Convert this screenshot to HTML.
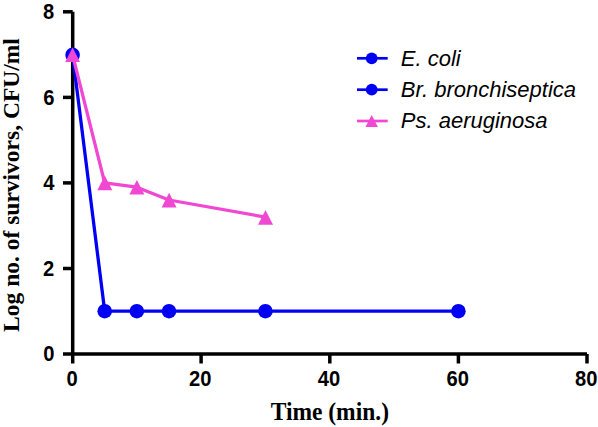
<!DOCTYPE html>
<html>
<head>
<meta charset="utf-8">
<style>
html,body{margin:0;padding:0;background:#fff;width:598px;height:427px;overflow:hidden;}
svg{display:block;}
.tick{font-family:"Liberation Sans",sans-serif;font-weight:bold;font-size:21px;fill:#000;}
.title{font-family:"Liberation Serif",serif;font-weight:bold;font-size:23.5px;fill:#000;}
.leg{font-family:"Liberation Sans",sans-serif;font-style:italic;font-size:22px;fill:#000;}
</style>
</head>
<body>
<svg width="598" height="427" viewBox="0 0 598 427">
<rect x="0" y="0" width="598" height="427" fill="#fff"/>
<!-- axes -->
<g stroke="#000" stroke-width="3.5" fill="none" stroke-linecap="butt">
  <line x1="72.7" y1="11.8" x2="72.7" y2="363.5"/>
  <line x1="63" y1="354" x2="587" y2="354"/>
  <line x1="63" y1="11.8" x2="72.7" y2="11.8"/>
  <line x1="63" y1="97.4" x2="72.7" y2="97.4"/>
  <line x1="63" y1="182.9" x2="72.7" y2="182.9"/>
  <line x1="63" y1="268.5" x2="72.7" y2="268.5"/>
  <line x1="201.1" y1="354" x2="201.1" y2="363.5"/>
  <line x1="329.8" y1="354" x2="329.8" y2="363.5"/>
  <line x1="458.4" y1="354" x2="458.4" y2="363.5"/>
  <line x1="587" y1="354" x2="587" y2="363.5"/>
</g>
<!-- y tick labels -->
<g class="tick" text-anchor="end">
  <text transform="translate(54.3,19.2) scale(0.96,1.05)">8</text>
  <text transform="translate(54.4,104.6) scale(0.96,1.05)">6</text>
  <text transform="translate(54.5,190.2) scale(0.96,1.05)">4</text>
  <text transform="translate(54.3,275.9) scale(0.96,1.05)">2</text>
  <text transform="translate(54.4,361.4) scale(0.96,1.05)">0</text>
</g>
<!-- x tick labels -->
<g class="tick" text-anchor="middle">
  <text transform="translate(72,385.5) scale(0.96,1.05)">0</text>
  <text transform="translate(200.3,385.5) scale(0.96,1.05)">20</text>
  <text transform="translate(329,385.5) scale(0.96,1.05)">40</text>
  <text transform="translate(457.7,385.5) scale(0.96,1.05)">60</text>
  <text transform="translate(586.3,385.5) scale(0.96,1.05)">80</text>
</g>
<!-- titles -->
<text class="title" text-anchor="middle" transform="translate(19.2,185) rotate(-90)">Log no. of survivors, CFU/ml</text>
<text class="title" text-anchor="middle" transform="translate(329.8,419.6) scale(1,1.03)">Time (min.)</text>

<!-- series: blue -->
<g stroke="#0000f5" stroke-width="3.3" fill="none" stroke-linejoin="round">
  <polyline points="72.6,54.9 104.7,311.2 136.8,311.2 169,311.2 265.4,311.2 458.4,311.2"/>
</g>
<g fill="#0000f5">
  <circle cx="72.6" cy="54.9" r="7.3"/>
  <circle cx="104.7" cy="311.2" r="7.3"/>
  <circle cx="136.8" cy="311.2" r="7.3"/>
  <circle cx="169" cy="311.2" r="7.3"/>
  <circle cx="265.4" cy="311.2" r="7.3"/>
  <circle cx="458.4" cy="311.2" r="7.3"/>
</g>
<!-- series: pink -->
<g stroke="#f048d2" stroke-width="3.3" fill="none" stroke-linejoin="round">
  <polyline points="72.6,54.9 104.7,182.9 136.8,187.2 169,200 265.4,217.1"/>
</g>
<g fill="#f048d2">
  <polygon points="72.6,47.6 80,61.9 65.2,61.9"/>
  <polygon points="104.8,175.6 112.3,190.3 97.3,190.3"/>
  <polygon points="136.9,179.9 144.4,194.6 129.4,194.6"/>
  <polygon points="169.1,192.8 176.6,207.5 161.6,207.5"/>
  <polygon points="265.5,210.0 273.0,224.7 258.0,224.7"/>
</g>

<!-- legend -->
<g stroke-width="2.7">
  <line x1="357" y1="58.3" x2="387.7" y2="58.3" stroke="#0000f5"/>
  <line x1="357" y1="89.7" x2="387.7" y2="89.7" stroke="#0000f5"/>
  <line x1="357" y1="121" x2="387.7" y2="121" stroke="#f048d2"/>
</g>
<circle cx="371.7" cy="58.3" r="5.9" fill="#0000f5"/>
<circle cx="371.7" cy="89.7" r="5.9" fill="#0000f5"/>
<polygon points="371.7,115 377.9,127 365.5,127" fill="#f048d2"/>
<g class="leg">
  <text x="400.8" y="65.6">E. coli</text>
  <text x="400.8" y="97">Br. bronchiseptica</text>
  <text x="400.8" y="127.8">Ps. aeruginosa</text>
</g>
</svg>
</body>
</html>
